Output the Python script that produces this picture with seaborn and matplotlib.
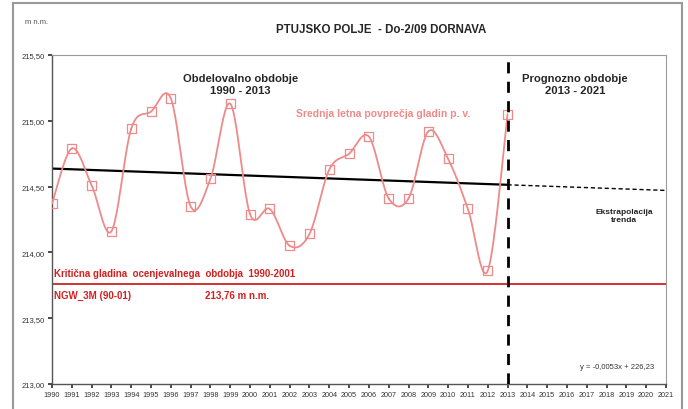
import numpy as np
import pandas as pd
import seaborn as sns
import matplotlib.pyplot as plt
from matplotlib.patches import Rectangle
from matplotlib.ticker import FuncFormatter

sns.set_theme(style="white")
plt.rcParams['font.family'] = ['Liberation Sans', 'DejaVu Sans']

years = list(range(1990, 2014))
levels = [214.37, 214.79, 214.51, 214.16, 214.94, 215.07, 215.17, 214.35,
          214.56, 215.13, 214.29, 214.33, 214.05, 214.14, 214.63, 214.75,
          214.88, 214.41, 214.41, 214.92, 214.71, 214.33, 213.86, 215.05]
critical_level = 213.76
forecast_end = 2021
x_ticks = list(range(1990, 2022))
y_ticks = [213.0, 213.5, 214.0, 214.5, 215.0, 215.5]

df = pd.DataFrame({'leto': years, 'gladina': levels})


def smooth(x, y, n=24):
    # catmull-rom, like the excel "smoothed line"
    x = np.asarray(x, float)
    y = np.asarray(y, float)
    px = np.r_[x[0], x, x[-1]]
    py = np.r_[y[0], y, y[-1]]
    xs, ys = [], []
    t = np.linspace(0, 1, n)
    for i in range(1, len(px) - 2):
        for arr, out in ((px, xs), (py, ys)):
            p0, p1, p2, p3 = arr[i - 1], arr[i], arr[i + 1], arr[i + 2]
            out.extend(0.5 * ((2 * p1) + (-p0 + p2) * t +
                              (2 * p0 - 5 * p1 + 4 * p2 - p3) * t ** 2 +
                              (-p0 + 3 * p1 - 3 * p2 + p3) * t ** 3))
    return np.array(xs), np.array(ys)


fig = plt.figure(figsize=(6.88, 4.10), dpi=100)
ax = fig.add_axes([0.0756, 0.061, 0.968 - 0.0756, 0.8634 - 0.061])

# outer frame of the chart
fig.patches.append(Rectangle((13 / 688, -0.05), (682 - 13) / 688, 1.05 - 4 / 410,
                             transform=fig.transFigure, fill=False,
                             edgecolor='#999999', lw=1.5))

red_soft = '#ee8a8a'
sx, sy = smooth(df['leto'], df['gladina'])
ax.plot(sx, sy, color=red_soft, lw=1.3, zorder=3)
sns.scatterplot(data=df, x='leto', y='gladina', marker='s', s=42,
                facecolor='none', edgecolor=red_soft, linewidth=0.9, ax=ax,
                zorder=4)

# linear trend and extrapolation
k, n = np.polyfit(years, levels, 1)
tx = np.array([years[0], years[-1]])
ax.plot(tx, k * tx + n, color='black', lw=1.6, zorder=2)
ex = np.array([years[-1], forecast_end])
ax.plot(ex, k * ex + n, color='black', lw=1.0, ls=(0, (3, 2)), zorder=2)

ax.axhline(critical_level, color='#d42020', lw=1.3, zorder=2)
ax.axvline(years[-1], color='black', lw=2, ls=(0, (4, 3)), zorder=5)

ax.set_xlim(1990, 2021)
ax.set_ylim(213, 215.5)
ax.set_xticks(x_ticks)
ax.set_yticks(y_ticks)
ax.yaxis.set_major_formatter(FuncFormatter(lambda v, p: f'{v:.2f}'.replace('.', ',')))
ax.tick_params(axis='both', labelsize=5.5, colors='#333333', length=3,
               direction='out', left=True, bottom=True, pad=2)
ax.tick_params(axis='x', labelsize=5.2)
ax.set_xlabel('')
ax.set_ylabel('')
for side in ['top', 'right']:
    ax.spines[side].set_color('#9a9a9a')
    ax.spines[side].set_linewidth(0.8)
for side in ['left', 'bottom']:
    ax.spines[side].set_color('#555555')
    ax.spines[side].set_linewidth(1.0)

fig.text(25 / 688, 1 - 22 / 410, 'm n.m.', fontsize=5.5, color='#555555',
         ha='left', va='center')
fig.text(381 / 688, 1 - 30 / 410, 'PTUJSKO POLJE  - Do-2/09 DORNAVA',
         fontsize=8.3, fontweight='bold', ha='center', va='center')

ax.text(1999.5, 215.28, 'Obdelovalno obdobje\n1990 - 2013', fontsize=8.1,
        fontweight='bold', ha='center', va='center', linespacing=1.25)
ax.text(2016.4, 215.28, 'Prognozno obdobje\n2013 - 2021', fontsize=8.1,
        fontweight='bold', ha='center', va='center', linespacing=1.25)
ax.text(2002.3, 215.06, 'Srednja letna povprečja gladin p. v.', fontsize=7.5,
        color=red_soft, fontweight='bold', ha='left', va='center')
ax.text(2018.9, 214.28, 'Ekstrapolacija\ntrenda', fontsize=6, fontweight='bold',
        ha='center', va='center', linespacing=1.1, color='#222222')
ax.text(1990.1, 213.845, 'Kritična gladina  ocenjevalnega  obdobja  1990-2001',
        fontsize=7, color='#d42020', fontweight='bold', ha='left', va='center')
ax.text(1990.1, 213.68, 'NGW_3M (90-01)', fontsize=7, color='#d42020',
        fontweight='bold', ha='left', va='center')
ax.text(1997.7, 213.68, '213,76 m n.m.', fontsize=7, color='#d42020',
        fontweight='bold', ha='left', va='center')
ax.text(2020.4, 213.13, 'y = -0,0053x + 226,23', fontsize=5.5, color='#333333',
        ha='right', va='center')

fig.savefig('out.png', dpi=100)
